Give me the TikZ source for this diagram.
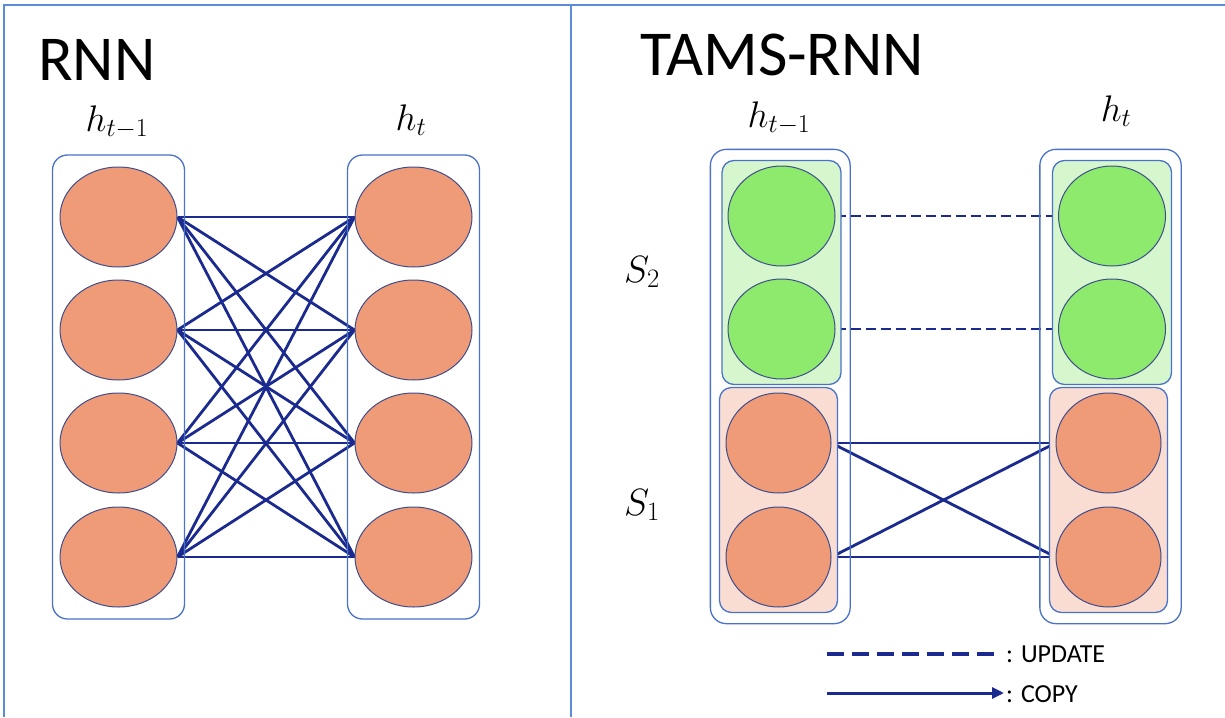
\RequirePackage{fix-cm}
\documentclass[tikz,border=0pt]{standalone}
\usepackage{fontspec}
\setmainfont{Carlito}
\usetikzlibrary{shapes.geometric,fit,backgrounds,arrows.meta}
\definecolor{salmon}{RGB}{240,155,120}
\definecolor{nborder}{RGB}{62,78,140}
\definecolor{ngreen}{RGB}{142,234,108}
\definecolor{lgreen}{RGB}{214,246,206}
\definecolor{lpink}{RGB}{249,221,211}
\definecolor{boxblue}{RGB}{74,114,200}
\definecolor{linkblue}{RGB}{27,42,142}
\definecolor{frameblue}{RGB}{91,139,217}
\begin{document}
\begin{tikzpicture}[x=1pt,y=-1pt,
  neuron/.style={ellipse, draw=nborder, line width=1pt, inner sep=0pt, minimum height=100pt},
  orangeN/.style={neuron, fill=salmon, minimum width=117pt},
  greenN/.style={neuron, fill=ngreen, minimum width=107pt},
  pinkN/.style={neuron, fill=salmon, minimum width=105pt},
  link/.style={draw=linkblue, line width=2.8pt},
  update/.style={link, dash pattern=on 10pt off 5pt},
  fitbox/.style={draw=boxblue, line width=1.3pt, inner sep=0pt},
  title/.style={inner sep=0pt, anchor=base west, font=\fontsize{64}{70}\selectfont},
  mathlbl/.style={inner sep=0pt, anchor=base, font=\fontsize{37}{40}\selectfont},
  slbl/.style={inner sep=0pt, anchor=base west, font=\fontsize{38}{40}\selectfont},
  legtext/.style={inner sep=0pt, anchor=base west, font=\fontsize{26}{28}\selectfont},
  frame/.style={draw=frameblue, line width=2pt}
]
\useasboundingbox (0,0) rectangle (1225,717);

% frame
\coordinate (f1) at (4,717);
\coordinate (f2) at (4,5);
\coordinate (f3) at (1225,5);
\coordinate (d1) at (571,5);
\coordinate (d2) at (571,717);
\draw[frame] (f1) -- (f2) -- (f3);
\draw[frame] (d1) -- (d2);

% titles
\node[title] (tRNN) at (38,80) {RNN};
\node[title] (tTAMS) at (640,75) {TAMS-RNN};

% RNN neurons
\foreach \i/\y in {1/217,2/330,3/443,4/557}{
  \node[orangeN] (L\i) at (118.5,\y) {};
  \node[orangeN] (R\i) at (413.5,\y) {};
}

% TAMS neurons
\node[greenN] (GA1) at (781.5,216) {};
\node[greenN] (GA2) at (781.5,329) {};
\node[pinkN] (PA1) at (778.5,443) {};
\node[pinkN] (PA2) at (778.5,557) {};
\node[greenN] (GB1) at (1112,216) {};
\node[greenN] (GB2) at (1112,329) {};
\node[pinkN] (PB1) at (1108.5,443) {};
\node[pinkN] (PB2) at (1108.5,557) {};

\begin{scope}[on background layer]
  \foreach \i in {1,...,4}{
    \foreach \j in {1,...,4}{
      \draw[link] (L\i.east) -- (R\j.west);
    }
  }
  \draw[update] (GA1.east) -- (GB1.west);
  \draw[update] (GA2.east) -- (GB2.west);
  \draw[link] (PA1.east) -- (PB1.west);
  \draw[link] (PA1.east) -- (PB2.west);
  \draw[link] (PA2.east) -- (PB1.west);
  \draw[link] (PA2.east) -- (PB2.west);

  \node[fitbox, rounded corners=15pt, inner xsep=7pt, inner ysep=11.5pt, fit=(L1)(L4)] (BL) {};
  \node[fitbox, rounded corners=15pt, inner xsep=7pt, inner ysep=11.5pt, fit=(R1)(R4)] (BR) {};

  \node[fitbox, fill=lgreen, rounded corners=12pt, inner xsep=5.5pt, inner ysep=5pt, fit=(GA1)(GA2)] (GBA) {};
  \node[fitbox, fill=lpink, rounded corners=12pt, inner xsep=6pt, inner ysep=5pt, fit=(PA1)(PA2)] (PBA) {};
  \node[fitbox, fill=lgreen, rounded corners=12pt, inner xsep=5.5pt, inner ysep=5pt, fit=(GB1)(GB2)] (GBB) {};
  \node[fitbox, fill=lpink, rounded corners=12pt, inner xsep=6pt, inner ysep=5pt, fit=(PB1)(PB2)] (PBB) {};
  \node[fitbox, rounded corners=16pt, inner xsep=8.5pt, inner ysep=10.5pt, fit=(GBA)(PBA)] (OA) {};
  \node[fitbox, rounded corners=16pt, inner xsep=9pt, inner ysep=10.5pt, fit=(GBB)(PBB)] (OB) {};
\end{scope}

% labels
\node[mathlbl] (hL1) at (117,131) {$h_{t-1}$};
\node[mathlbl] (hL2) at (411,130) {$h_t$};
\node[mathlbl] (hR1) at (779,127) {$h_{t-1}$};
\node[mathlbl] (hR2) at (1116,121) {$h_t$};
\node[slbl] (S2) at (624,282) {$S_2$};
\node[slbl] (S1) at (624,515) {$S_1$};

% legend
\coordinate (u1) at (827,654);
\coordinate (u2) at (998,654);
\draw[draw=linkblue, line width=4.5pt, dash pattern=on 17pt off 8pt] (u1) -- (u2);
\node[legtext] (uText) at (1006,662) {: UPDATE};
\coordinate (c1) at (827,693);
\coordinate (c2) at (1004,693);
\draw[link, line width=3pt, -{Triangle[length=12pt,width=11pt]}] (c1) -- (c2);
\node[legtext] (cText) at (1006,702) {: COPY};
\end{tikzpicture}
\end{document}
